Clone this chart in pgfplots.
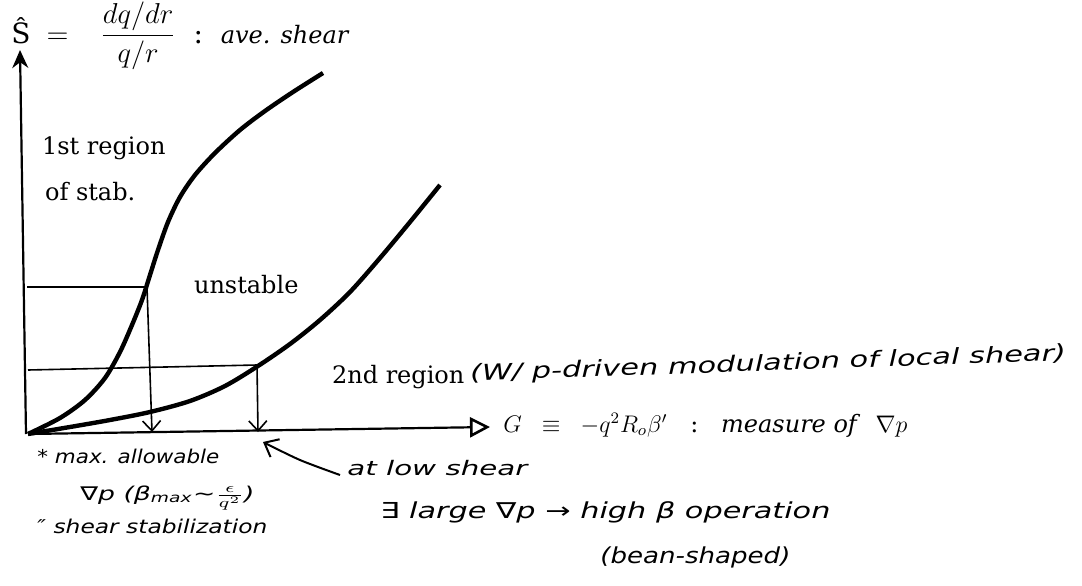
\documentclass[border=0pt]{standalone}
\usepackage{fontspec}
\setmainfont{DejaVu Serif}
\newfontfamily\hand{DejaVu Sans}
\usepackage{graphicx}
\usepackage{pgfplots}
\usepackage{pgfplotstable}
\pgfplotsset{compat=1.18}
\usetikzlibrary{arrows.meta}

% first stability boundary: S-hat against G
\pgfplotstableread{
G S
0 0
32 16
57 34
77 56
92 82
104 109
114 134
122 159
130 184
140 212
152 237
167 259
187 281
212 304
237 323
265 342
295 361
}\firstboundary

% second stability boundary
\pgfplotstableread{
G S
0 0
42 7
82 14
122 22
162 33
197 48
230 68
262 90
292 114
322 142
352 176
382 212
412 249
}\secondboundary

% handwritten note: width #1, natural height
\newcommand{\hw}[2]{\resizebox{#1}{\height}{\hand\itshape #2}}

\begin{document}
\begin{tikzpicture}
\begin{axis}[
  scale only axis, width=541pt, height=292.5pt,
  xmin=-28, xmax=1054, ymin=-151, ymax=434,
  hide axis, clip=false]

% coordinate axes
\addplot[line width=1.1pt, -{Stealth[length=9pt,width=8pt]}] coordinates {(-2,0) (-8,384)};
\addplot[line width=1.1pt, -{Triangle[open,length=10pt,width=10pt,line width=1.3pt]}] coordinates {(0,0) (462,7)};

% stability boundaries
\addplot[smooth, line width=2.2pt] table {\firstboundary};
\addplot[smooth, line width=2.2pt] table {\secondboundary};

% guides to the marginal points
\addplot[line width=0.8pt] coordinates {(-1,147) (119,147)};
\addplot[line width=0.8pt, -{Straight Barb[length=5pt,width=9pt,line width=0.8pt]}] coordinates {(119,147) (124,2)};
\addplot[line width=0.8pt] coordinates {(0,64) (229,69)};
\addplot[line width=0.8pt, -{Straight Barb[length=5pt,width=9pt,line width=0.8pt]}] coordinates {(229,69) (230,2)};

% pointer from the low-shear note
\addplot[smooth, line width=1pt, -{Straight Barb[length=6pt,width=10pt,line width=1pt]}] coordinates {(312,-41) (272,-26) (235,-8)};

% region labels
\node[anchor=base west, font=\fontsize{12}{14}\selectfont] at (axis cs:7,279) {1st region};
\node[anchor=base west, font=\fontsize{12}{14}\selectfont] at (axis cs:10,234) {of stab.};
\node[anchor=base west, font=\fontsize{12}{14}\selectfont] at (axis cs:159,141) {unstable};
\node[anchor=base west, font=\fontsize{12}{14}\selectfont] at (axis cs:297,51) {2nd region};

% axis titles
\node[anchor=west, font=\fontsize{14}{16}\selectfont, inner sep=0pt] at (axis cs:-17,398)
  {Ŝ$\;\;=\;\;\;\displaystyle\frac{dq/dr}{q/r}$\ \ :\ \ \textit{\fontsize{12}{14}\selectfont ave. shear}};
\node[anchor=base west, font=\fontsize{12}{14}\selectfont, inner sep=0pt] at (axis cs:475,2)
  {$G\;\;\equiv\;\;-q^{2}R_{o}\beta'$\ \ \ :\ \ \ \textit{measure of}\ \ $\nabla p$};

% handwritten notes
\node[anchor=base west, inner sep=0pt, rotate=2, font=\fontsize{11}{13}\selectfont] at (axis cs:442,53)
  {\hw{298pt}{(W/ p-driven modulation of local shear)}};
\node[anchor=base west, inner sep=0pt, font=\fontsize{9.5}{11}\selectfont] at (axis cs:9,-29)
  {\hw{91pt}{* max. allowable}};
\node[anchor=base west, inner sep=0pt, font=\fontsize{9.5}{11}\selectfont] at (axis cs:52,-66)
  {\hw{87pt}{∇p (β\textsubscript{max}∼$\frac{\epsilon}{q^{2}}$)}};
\node[anchor=base west, inner sep=0pt, font=\fontsize{9.5}{11}\selectfont] at (axis cs:9,-99)
  {\hw{115pt}{″ shear stabilization}};
\node[anchor=base west, inner sep=0pt, font=\fontsize{10}{12}\selectfont] at (axis cs:319,-41)
  {\hw{90pt}{at low shear}};
\node[anchor=base west, inner sep=0pt, font=\fontsize{11}{13}\selectfont] at (axis cs:352,-84)
  {\hw{225pt}{∃ large ∇p → high β operation}};
\node[anchor=base west, inner sep=0pt, font=\fontsize{11}{13}\selectfont] at (axis cs:572,-129)
  {\hw{95pt}{(bean-shaped)}};
\end{axis}
\pgfresetboundingbox
\path[use as bounding box] (current axis.south west) rectangle (current axis.north east);
\end{tikzpicture}
\end{document}
